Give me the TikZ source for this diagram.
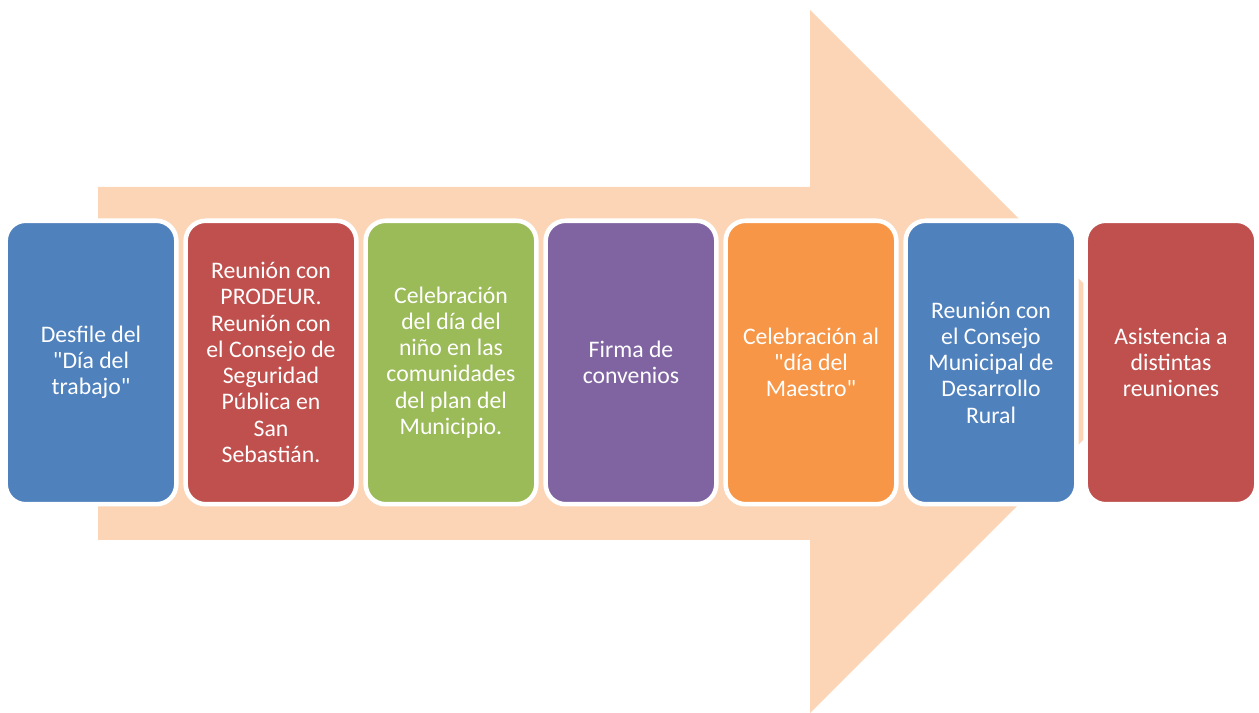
\documentclass[tikz,border=0pt]{standalone}
\usepackage{fontspec}
\setmainfont{Carlito}
\usepackage{tikz}
\usetikzlibrary{positioning}
\definecolor{arrowfill}{HTML}{FBD5B5}
\definecolor{stblue}{HTML}{4F81BD}
\definecolor{stred}{HTML}{C0504D}
\definecolor{stgreen}{HTML}{9BBB59}
\definecolor{stpurple}{HTML}{8064A2}
\definecolor{storange}{HTML}{F79646}
\newcommand{\dq}{\textquotedbl}

\begin{document}
\begin{tikzpicture}[x=0.75pt, y=0.75pt,
  stage/.style={draw=white, line width=3.4pt, rounded corners=15pt,
    minimum width=128pt, minimum height=212.6pt, text=white, align=center,
    font=\fontsize{17.8}{19.7}\selectfont}]
\useasboundingbox (0,0) rectangle (1259,713);
% big background arrow
\fill[arrowfill] (98,526) -- (810,526) -- (810,703) -- (1161.5,351.5) -- (810,0) -- (810,173) -- (98,173) -- cycle;
\node[stage, fill=stblue] (s1) at (91,350.5) {Desfile del\\\dq Día del\\trabajo\dq};
\node[stage, fill=stred] (s2) at (271,350.5) {Reunión con\\PRODEUR.\\Reunión con\\el Consejo de\\Seguridad\\Pública en\\San\\Sebastián.};
\node[stage, fill=stgreen] (s3) at (451,350.5) {Celebración\\del día del\\niño en las\\comunidades\\del plan del\\Municipio.};
\node[stage, fill=stpurple] (s4) at (631,350.5) {Firma de\\convenios};
\node[stage, fill=storange] (s5) at (811,350.5) {Celebración al\\\dq día del\\Maestro\dq};
\node[stage, fill=stblue] (s6) at (991,350.5) {Reunión con\\el Consejo\\Municipal de\\Desarrollo\\Rural};
\node[stage, fill=stred] (s7) at (1171,350.5) {Asistencia a\\distintas\\reuniones};
\end{tikzpicture}
\end{document}
